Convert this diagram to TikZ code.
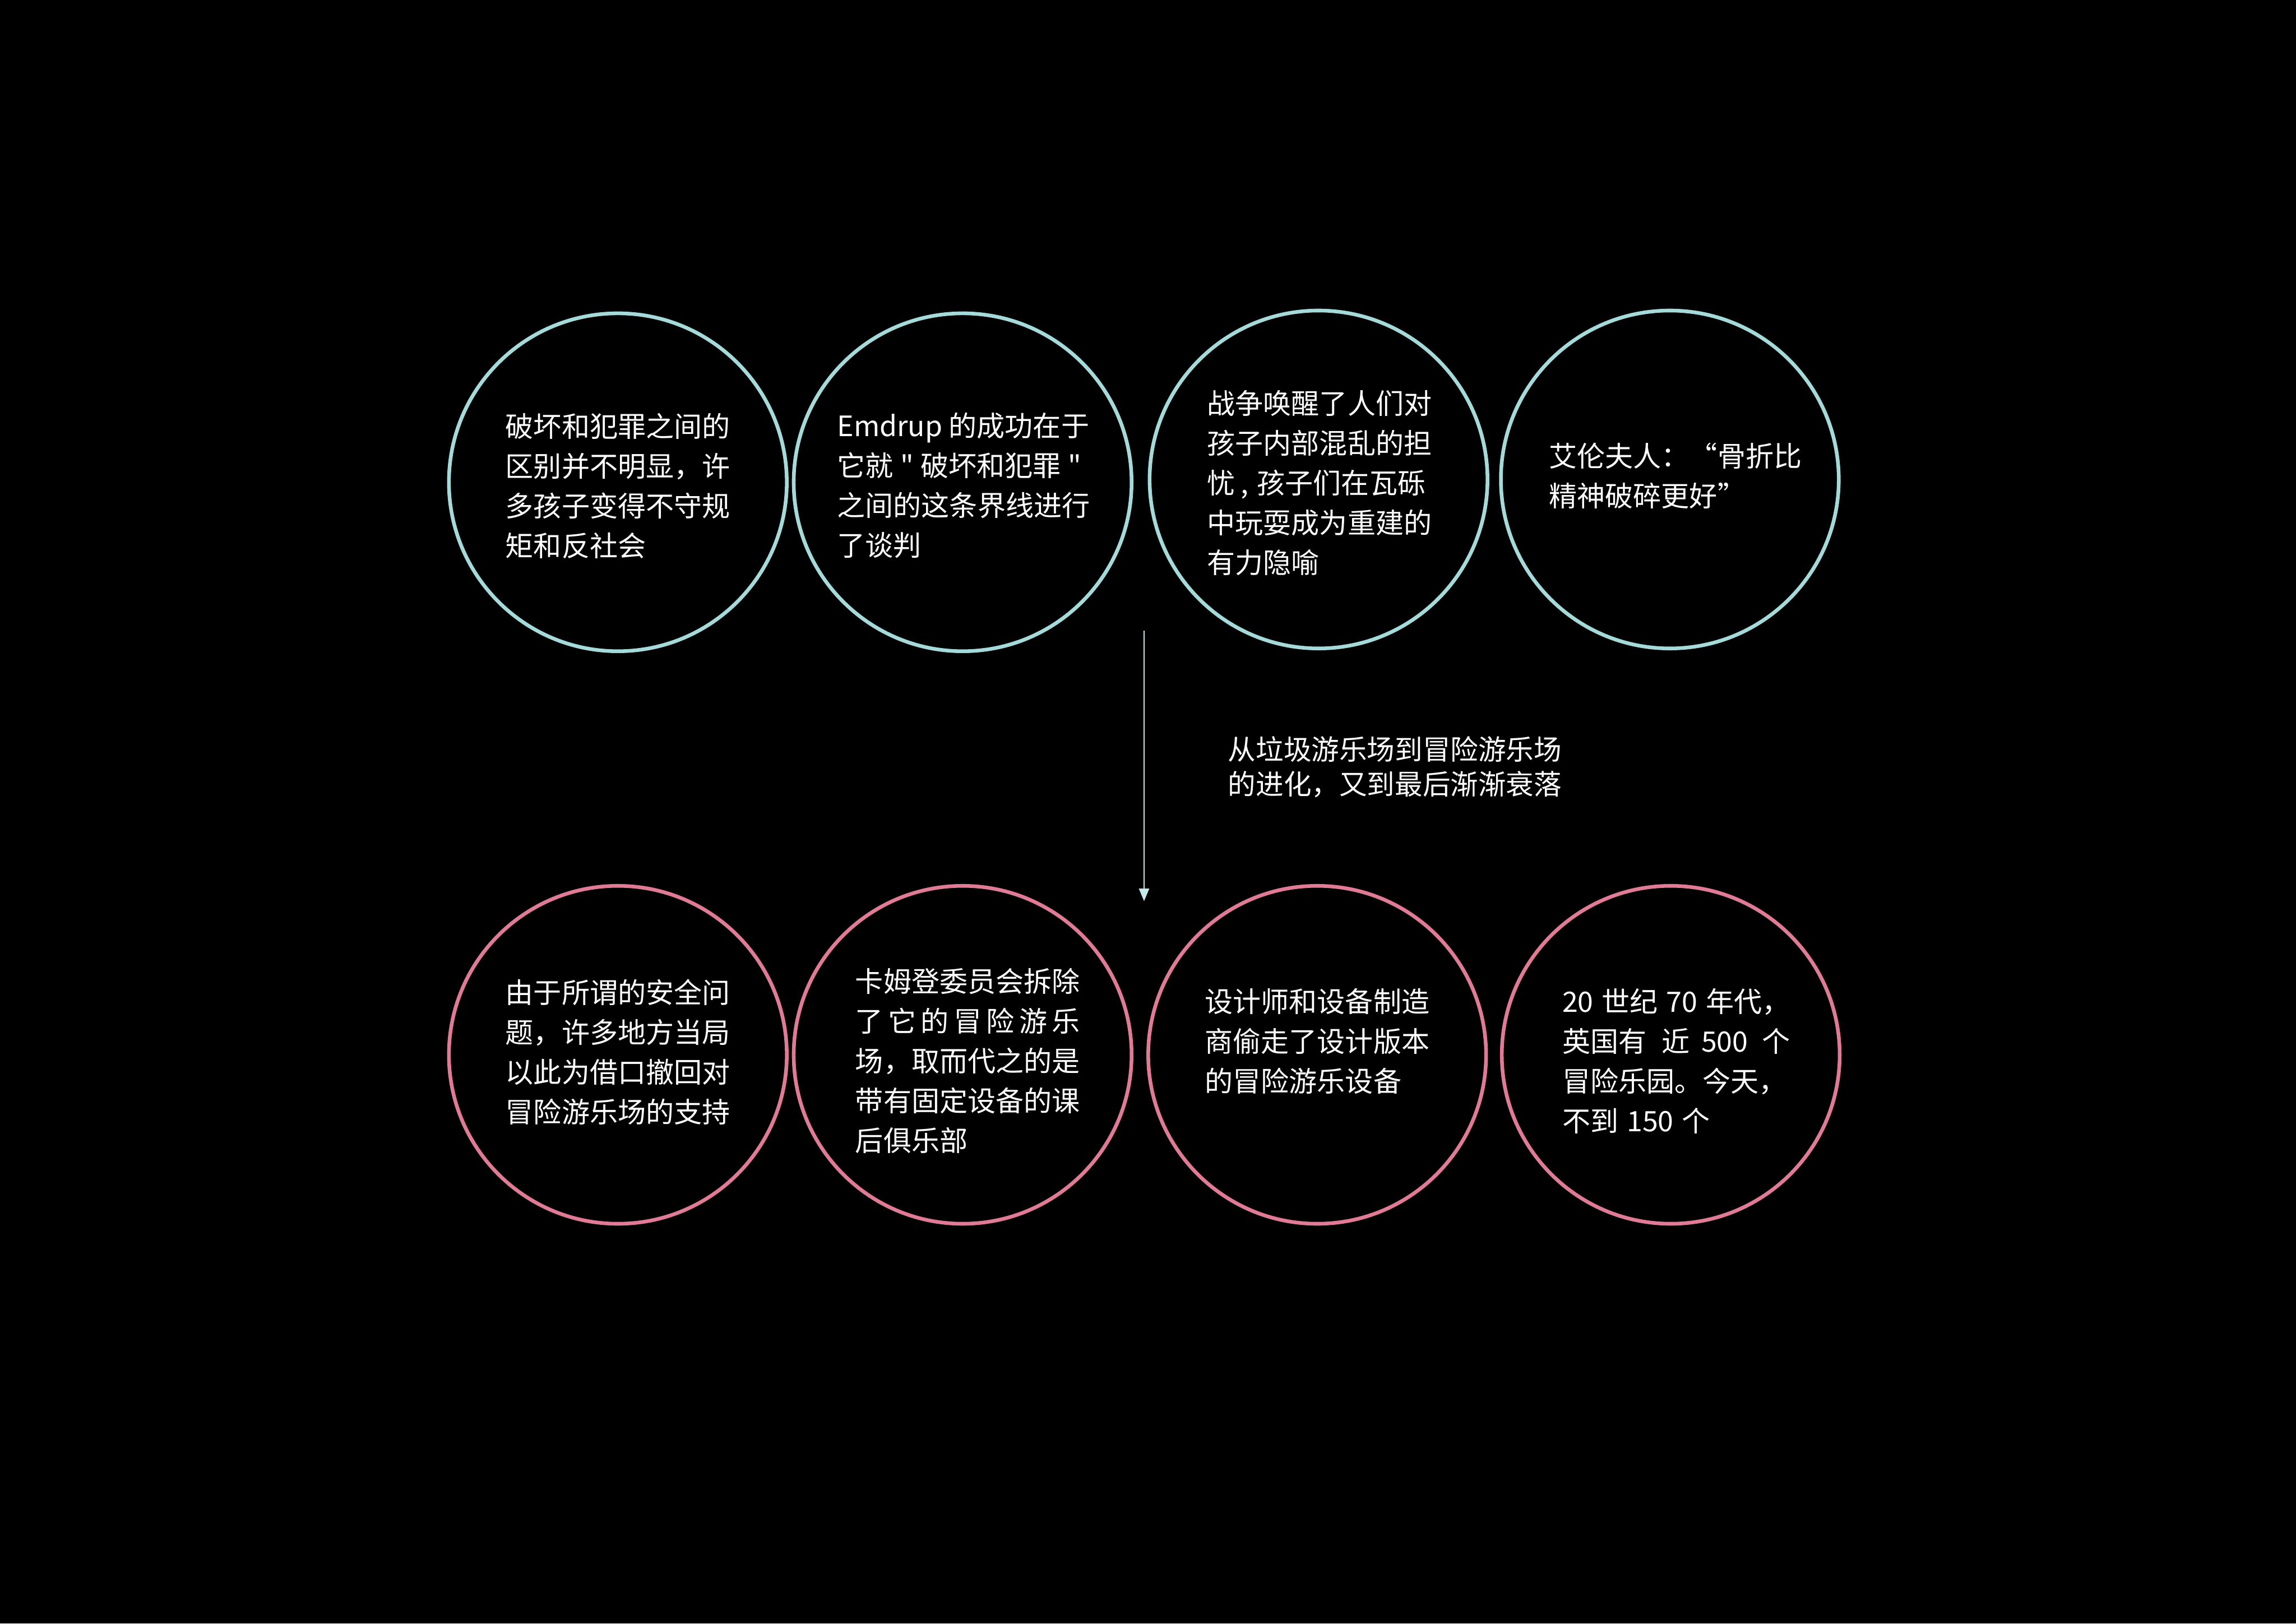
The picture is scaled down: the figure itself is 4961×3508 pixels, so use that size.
\documentclass[tikz,border=0pt]{standalone}
\usepackage{fontspec}
\setmainfont{Noto Sans CJK SC}
\newfontfamily\rawquotefont{Noto Sans CJK SC}[Ligatures=TeXOff]
\usetikzlibrary{arrows.meta}
\definecolor{ringteal}{HTML}{A5DADA}
\definecolor{ringpink}{HTML}{E07A95}
\definecolor{arrowcol}{HTML}{C5E8E8}
\newcommand{\straightq}{{\rawquotefont\symbol{34}}}
\begin{document}
\begin{tikzpicture}[x=0.16971pt,y=-0.16971pt,
  ring/.style={circle,draw,line width=1.35pt,minimum size=123.9pt,inner sep=0pt},
  topring/.style={ring,draw=ringteal},
  botring/.style={ring,draw=ringpink},
  txt/.style={text=white,align=left,inner sep=0pt,font=\fontsize{10.3pt}{14.6pt}\selectfont},
  midtxt/.style={text=white,align=left,inner sep=0pt,font=\fontsize{10.2pt}{12.8pt}\selectfont}]
\fill[black] (0,0) rectangle (4961,3508);
\useasboundingbox (0,0) rectangle (4961,3508);
% rings
\node[topring] (t1) at (1335,1042) {};
\node[topring] (t2) at (2080,1042) {};
\node[topring] (t3) at (2849,1036) {};
\node[topring] (t4) at (3608,1036) {};
\node[botring] (b1) at (1335,2279) {};
\node[botring] (b2) at (2080,2279) {};
\node[botring] (b3) at (2846,2279) {};
\node[botring] (b4) at (3610,2279) {};
% texts
\node[txt] (tt1) at (1335,1050) {破坏和犯罪之间的\\区别并不明显，许\\多孩子变得不守规\\矩和反社会};
\node[txt] (tt2) at (2082,1049) {Emdrup 的成功在于\\它就\hspace{0.25em}\straightq\hspace{0.25em}破坏和犯罪\hspace{0.25em}\straightq\\之间的这条界线进行\\了谈判};
\node[txt] (tt3) at (2851,1043) {战争唤醒了人们对\\孩子内部混乱的担\\忧\hspace{0.2em},\hspace{0.3em}孩子们在瓦砾\\中玩耍成为重建的\\有力隐喻};
\node[txt] (tt4) at (3620,1028) {艾伦夫人：“骨折比\\精神破碎更好”};
\node[txt] (bt1) at (1335,2273) {由于所谓的安全问\\题，许多地方当局\\以此为借口撤回对\\冒险游乐场的支持};
\node[txt] (bt2) at (2091,2292) {卡姆登委员会拆除\\\makebox[8em][s]{了\hfill 它\hfill 的\hfill 冒\hfill 险\hfill 游\hfill 乐}\\场，取而代之的是\\带有固定设备的课\\后俱乐部};
\node[txt] (bt3) at (2846,2250) {设计师和设备制造\\商偷走了设计版本\\的冒险游乐设备};
\node[txt] (bt4) at (3622,2292) {20\hspace{0.3em}世纪\hspace{0.3em}70\hspace{0.3em}年代，\\英国有\hspace{0.55em}近\hspace{0.4em}500\hspace{0.5em}个\\冒险乐园。今天，\\不到\hspace{0.3em}150\hspace{0.3em}个};
\node[midtxt] (mid) at (3014,1657) {从垃圾游乐场到冒险游乐场\\的进化，又到最后渐渐衰落};
% arrow
\coordinate (a1) at (2472,1363);
\coordinate (a2) at (2472,1947);
\draw[arrowcol,line width=0.5pt,-{Triangle[width=3.7pt,length=4.6pt]}] (a1) -- (a2);
\end{tikzpicture}
\end{document}
